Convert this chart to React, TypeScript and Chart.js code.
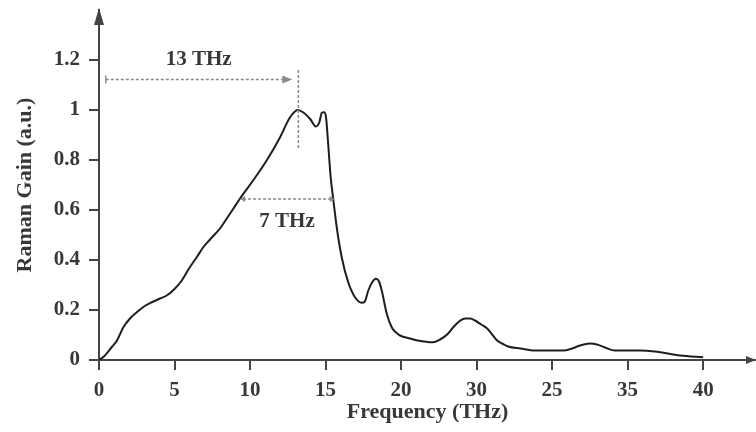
import React, { useEffect, useRef } from "react";
import { Chart, registerables } from "chart.js";

Chart.register(...registerables);

// Frequency (THz, linear axis position) and Raman gain (a.u.)
const frequency = [
  0, 0.33, 0.84, 1.19, 1.61, 2.05, 2.5, 2.98, 3.49, 4.04, 4.48, 4.97, 5.48, 5.96, 6.47, 6.89, 7.35,
  8.01, 8.46, 8.87, 9.34, 10.2, 11.1, 11.99, 12.65, 13.16, 13.53, 13.97, 14.37, 14.59, 14.75, 14.9,
  15.03, 15.19, 15.34, 15.52, 15.74, 16.07, 16.5, 16.95, 17.4, 17.6, 17.83, 18.08, 18.34, 18.54,
  18.72, 19.05, 19.38, 19.67, 19.93, 20.6, 21.1, 22.1, 22.58, 23.05, 23.44, 23.84, 24.24, 24.57,
  24.9, 25.3, 25.7, 26.03, 26.36, 26.69, 27.09, 27.9, 28.87, 30.72, 31.32, 31.85, 32.5, 32.97,
  33.5, 34.17, 35.83, 36.8, 38.48, 40,
];
const gain = [
  0, 0.014, 0.051, 0.078, 0.131, 0.166, 0.191, 0.214, 0.231, 0.246, 0.258, 0.282, 0.318, 0.366,
  0.411, 0.45, 0.482, 0.526, 0.566, 0.603, 0.646, 0.718, 0.798, 0.891, 0.971, 1.0, 0.99, 0.965,
  0.934, 0.951, 0.989, 0.991, 0.971, 0.851, 0.731, 0.638, 0.531, 0.411, 0.311, 0.251, 0.229,
  0.234, 0.278, 0.31, 0.325, 0.314, 0.278, 0.186, 0.131, 0.11, 0.098, 0.086, 0.078, 0.071, 0.082,
  0.102, 0.13, 0.154, 0.166, 0.166, 0.158, 0.142, 0.126, 0.102, 0.078, 0.066, 0.054, 0.046,
  0.038, 0.038, 0.046, 0.058, 0.066, 0.062, 0.05, 0.038, 0.038, 0.034, 0.018, 0.011,
];

const xTickValues = [0, 5, 10, 15, 20, 25, 30, 35, 40];
const xTickLabels = ["0", "5", "10", "15", "20", "30", "25", "35", "40"];
const yTickValues = [0, 0.2, 0.4, 0.6, 0.8, 1, 1.2];
const yTickLabels = ["0", "0.2", "0.4", "0.6", "0.8", "1", "1.2"];

// Annotations (data units)
const peakArrow = { label: "13 THz", from: 0.45, to: 12.8, y: 1.122, labelX: 6.6, labelY: 1.2 };
const peakLine = { x: 13.2, yTop: 1.16, yBottom: 0.84 };
const widthArrow = { label: "7 THz", from: 9.34, to: 15.6, y: 0.644, labelX: 12.45, labelY: 0.555 };

const TEXT = "#383838";
const AXIS = "#444444";
const FONT_FAMILY = "'Liberation Serif', 'DejaVu Serif', serif";

const annotationPlugin = {
  id: "ramanAnnotations",
  afterDraw(chart: any) {
    const { ctx, scales } = chart;
    const xs = scales.x;
    const ys = scales.y;
    const X = (v: number) => xs.getPixelForValue(v);
    const Y = (v: number) => ys.getPixelForValue(v);
    ctx.save();

    // axis arrows
    ctx.fillStyle = AXIS;
    const ax = X(0);
    const top = chart.chartArea.top;
    ctx.beginPath();
    ctx.moveTo(ax, top - 2);
    ctx.lineTo(ax - 5, top + 15);
    ctx.lineTo(ax + 5, top + 15);
    ctx.closePath();
    ctx.fill();
    const ay = Y(0);
    const right = chart.chartArea.right;
    ctx.beginPath();
    ctx.moveTo(right, ay);
    ctx.lineTo(right - 10, ay - 4);
    ctx.lineTo(right - 10, ay + 4);
    ctx.closePath();
    ctx.fill();

    // dashed lines
    ctx.strokeStyle = "#8a8a8a";
    ctx.fillStyle = "#8a8a8a";
    ctx.lineWidth = 1.5;
    ctx.setLineDash([3, 2]);
    const y1 = Y(peakArrow.y);
    ctx.beginPath();
    ctx.moveTo(X(peakArrow.from), y1);
    ctx.lineTo(X(peakArrow.to) - 8, y1);
    ctx.stroke();
    ctx.beginPath();
    ctx.moveTo(X(peakLine.x), Y(peakLine.yTop));
    ctx.lineTo(X(peakLine.x), Y(peakLine.yBottom));
    ctx.stroke();
    const y2 = Y(widthArrow.y);
    ctx.beginPath();
    ctx.moveTo(X(widthArrow.from) + 3, y2);
    ctx.lineTo(X(widthArrow.to) - 3, y2);
    ctx.stroke();
    ctx.setLineDash([]);

    ctx.beginPath();
    ctx.moveTo(X(peakArrow.from), y1 - 4);
    ctx.lineTo(X(peakArrow.from), y1 + 4);
    ctx.stroke();
    const tx = X(peakArrow.to);
    ctx.beginPath();
    ctx.moveTo(tx, y1);
    ctx.lineTo(tx - 10, y1 - 4);
    ctx.lineTo(tx - 10, y1 + 4);
    ctx.closePath();
    ctx.fill();
    const lx = X(widthArrow.from);
    const rx = X(widthArrow.to);
    ctx.beginPath();
    ctx.moveTo(lx, y2);
    ctx.lineTo(lx + 5, y2 - 3);
    ctx.lineTo(lx + 5, y2 + 3);
    ctx.closePath();
    ctx.fill();
    ctx.beginPath();
    ctx.moveTo(rx, y2);
    ctx.lineTo(rx - 5, y2 - 3);
    ctx.lineTo(rx - 5, y2 + 3);
    ctx.closePath();
    ctx.fill();

    ctx.fillStyle = TEXT;
    ctx.font = `bold 21px ${FONT_FAMILY}`;
    ctx.textAlign = "center";
    ctx.textBaseline = "middle";
    ctx.fillText(peakArrow.label, X(peakArrow.labelX), Y(peakArrow.labelY));
    ctx.fillText(widthArrow.label, X(widthArrow.labelX), Y(widthArrow.labelY));
    ctx.restore();
  },
};

export default function App() {
  const ref = useRef<HTMLCanvasElement | null>(null);
  useEffect(() => {
    if (!ref.current) return;
    const font = { family: FONT_FAMILY, size: 21, weight: "bold" as const };
    const chart = new Chart(ref.current, {
      type: "line",
      data: {
        datasets: [
          {
            data: frequency.map((x, i) => ({ x, y: gain[i] })),
            borderColor: "#1e1e1e",
            borderWidth: 2,
            pointRadius: 0,
            fill: false,
            cubicInterpolationMode: "monotone",
          },
        ],
      },
      options: {
        animation: false,
        responsive: false,
        devicePixelRatio: 1,
        layout: { padding: { top: 10, right: 0, left: 0, bottom: 0 } },
        plugins: { legend: { display: false }, tooltip: { enabled: false } },
        scales: {
          x: {
            type: "linear",
            min: 0,
            max: 43.5,
            afterBuildTicks: (s: any) => {
              s.ticks = xTickValues.map((value) => ({ value }));
            },
            afterFit: (s: any) => {
              s.height = 72;
              s.paddingLeft = 0;
              s.paddingRight = 0;
              s.paddingTop = 0;
              s.paddingBottom = 0;
            },
            ticks: {
              padding: 8,
              color: TEXT,
              font,
              maxRotation: 0,
              autoSkip: false,
              callback: (v: any) => xTickLabels[xTickValues.indexOf(Number(v))] ?? "",
            },
            grid: { drawOnChartArea: false, drawTicks: true, tickLength: 10, color: AXIS, lineWidth: 2 },
            border: { display: true, color: AXIS, width: 2 },
            title: {
              display: true,
              text: "Frequency (THz)",
              color: TEXT,
              font: { ...font, size: 22 },
              padding: { top: 0, bottom: 6 },
            },
          },
          y: {
            type: "linear",
            min: 0,
            max: 1.4,
            afterBuildTicks: (s: any) => {
              s.ticks = yTickValues.map((value) => ({ value }));
            },
            afterFit: (s: any) => {
              s.width = 99;
              s.paddingLeft = 0;
              s.paddingRight = 0;
              s.paddingTop = 0;
              s.paddingBottom = 0;
            },
            ticks: {
              padding: 9,
              color: TEXT,
              font,
              autoSkip: false,
              callback: (v: any) => yTickLabels[yTickValues.indexOf(Number(v))] ?? "",
            },
            grid: { drawOnChartArea: false, drawTicks: true, tickLength: 10, color: AXIS, lineWidth: 2 },
            border: { display: true, color: AXIS, width: 2 },
            title: {
              display: true,
              text: "Raman Gain (a.u.)",
              color: TEXT,
              font: { ...font, size: 22 },
              padding: { top: 12, bottom: 0 },
            },
          },
        },
      },
      plugins: [annotationPlugin],
    } as any);
    return () => chart.destroy();
  }, []);
  return (
    <div style={{ position: "absolute", left: 0, top: 0, width: 756, height: 432, background: "#fff" }}>
      <canvas ref={ref} width={756} height={432} style={{ width: 756, height: 432, display: "block" }} />
    </div>
  );
}
